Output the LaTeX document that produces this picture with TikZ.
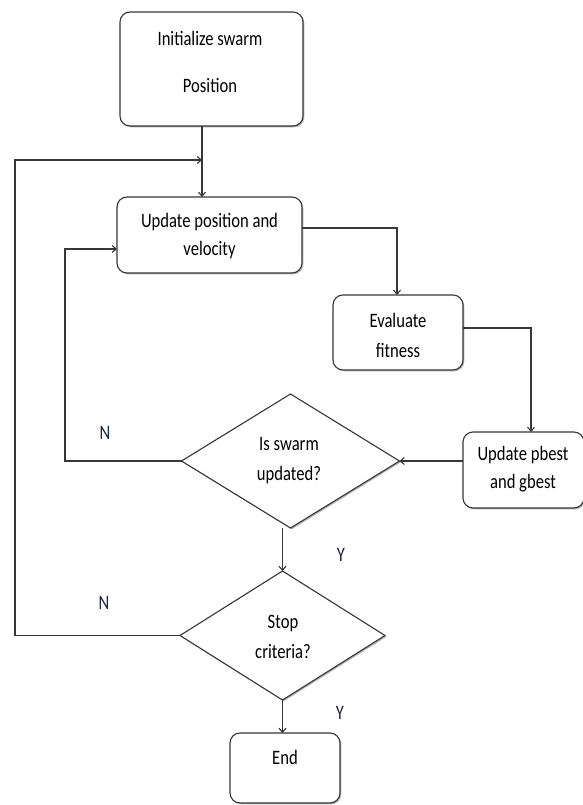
\documentclass[tikz,border=0pt]{standalone}
\usepackage{fontspec}
\setmainfont{Carlito}
\newfontfamily\calf[FakeStretch=0.81]{Carlito}
\usetikzlibrary{shapes.geometric,arrows.meta,shadows}
\definecolor{ln}{RGB}{55,55,55}
\definecolor{lbl}{RGB}{25,35,75}
\tikzset{
  box/.style={draw=ln, line width=1.1pt, fill=white, rounded corners=10pt, outer sep=0pt, inner sep=0pt,
    drop shadow={shadow xshift=1.3pt, shadow yshift=-1.3pt, fill=gray!60, opacity=1}},
  dia/.style={diamond, draw=ln, line width=1.1pt, fill=white, outer sep=0pt, inner sep=0pt,
    drop shadow={shadow xshift=1.3pt, shadow yshift=-1.3pt, fill=gray!60, opacity=1}},
  txt/.style={font=\calf\fontsize{20.5}{#1}\selectfont, align=center, inner sep=0pt, text=black},
  txt/.default=30,
  lab/.style={font=\calf\fontsize{20.5}{24}\selectfont, inner sep=0pt, text=lbl},
  conn/.style={draw=ln, line width=1.1pt},
  arr/.style={conn, -{Straight Barb[length=4pt,width=7pt]}}
}
\begin{document}
\begin{tikzpicture}[x=1pt,y=-1pt]
\clip (0,0) rectangle (583,805);
\fill[white] (0,0) rectangle (583,805);
% boxes
\node[box, minimum width=183pt, minimum height=114pt] (b1) at (211.5,69) {};
\node[box, minimum width=185pt, minimum height=76pt] (b2) at (209.5,235) {};
\node[box, minimum width=130pt, minimum height=75pt] (b3) at (398,332.5) {};
\node[box, minimum width=121pt, minimum height=76pt] (b4) at (523.5,470) {};
\node[dia, minimum width=218pt, minimum height=134pt] (d1) at (290.5,461) {};
\node[dia, minimum width=205pt, minimum height=129pt] (d2) at (282.5,635.5) {};
\node[box, minimum width=110pt, minimum height=70pt] (e) at (285,768) {};
% texts
\node[txt=47] (t1) at (210,61.5) {Initialize swarm\\Position};
\node[txt=28] (t2) at (209.5,236) {Update position and\\velocity};
\node[txt=30] (t3) at (398,335) {Evaluate\\fitness};
\node[txt=28] (t4) at (523,469) {Update pbest\\and gbest};
\node[txt=30] (t5) at (289,461) {Is swarm\\updated?};
\node[txt=30] (t6) at (283,637) {Stop\\criteria?};
\node[txt] (t7) at (285,757) {End};
\node[lab] (n1) at (105,433) {N};
\node[lab] (n2) at (104,603) {N};
\node[lab] (y1) at (341,555) {Y};
\node[lab] (y2) at (340,713) {Y};
% coordinates
\coordinate (j) at (202,160);
\coordinate (c15) at (15,160);
\coordinate (c65) at (65,249);
\coordinate (c23) at (397,228);
\coordinate (c34) at (531,328);
% connectors
\draw[arr] (j |- b1.south) -- (j |- b2.north);
\draw[arr] (d2.west) -- (d2.west -| c15) -- (c15) -- (j);
\draw[arr] (b2.east |- c23) -- (c23) -- (b3.north -| c23);
\draw[arr] (b3.east |- c34) -- (c34) -- (b4.north -| c34);
\draw[arr] (b4.west |- d1.east) -- (d1.east);
\draw[arr] (d1.west) -- (d1.west -| c65) -- (c65) -- (b2.west |- c65);
\draw[arr] (d2.north |- d1.south) -- (d2.north);
\draw[arr] (d2.south) -- (e.north -| d2.south);
\end{tikzpicture}
\end{document}
